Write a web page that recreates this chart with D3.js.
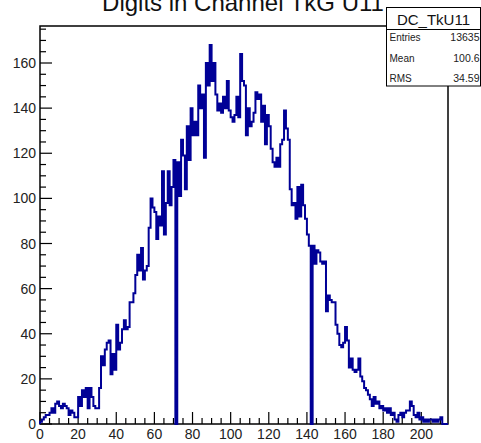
<!DOCTYPE html>
<html>
<head>
<meta charset="utf-8">
<script src="https://cdn.jsdelivr.net/npm/d3@7"></script>
<style>
  html, body { margin: 0; padding: 0; background: #fff; }
  svg { display: block; font-family: "Liberation Sans", Arial, Helvetica, sans-serif; }
</style>
</head>
<body>
<svg id="chart" width="481" height="443"></svg>
<script>
// Bin contents, one entry per unit-wide bin starting at 0
const counts = [
  1, 2, 3, 4, 4, 5, 7, 5, 9, 10,
  8, 7, 9, 8, 7, 4, 6, 5, 3, 3,
  12, 8, 15, 12, 16, 7, 16, 12, 8, 7,
  7, 16, 30, 26, 33, 36, 37, 22, 31, 24,
  44, 33, 36, 42, 46, 42, 43, 54, 54, 58,
  66, 75, 68, 78, 64, 68, 70, 87, 100, 96,
  94, 82, 92, 88, 112, 84, 98, 112, 97, 105,
  117, 0, 116, 101, 126, 119, 104, 132, 117, 140,
  128, 134, 128, 150, 140, 146, 118, 160, 150, 168,
  152, 160, 146, 139, 142, 138, 145, 140, 152, 139,
  136, 134, 137, 145, 136, 164, 152, 150, 128, 140,
  132, 134, 138, 147, 144, 146, 134, 141, 124, 137,
  132, 122, 116, 114, 118, 114, 124, 126, 139, 131,
  126, 104, 97, 98, 91, 105, 92, 106, 97, 91,
  84, 79, 0, 79, 71, 77, 76, 72, 71, 72,
  50, 57, 55, 54, 54, 44, 40, 35, 34, 36,
  43, 37, 25, 29, 24, 23, 24, 29, 21, 19,
  16, 15, 13, 11, 8, 12, 9, 10, 7, 8,
  6, 7, 5, 7, 4, 5, 2, 1, 4, 5,
  3, 5, 6, 6, 10, 8, 4, 3, 5, 2,
  3, 1, 2, 1, 2, 2, 1, 2, 1, 2,
  3, 0, 0, 0
];
const xTickLabels = [0, 20, 40, 60, 80, 100, 120, 140, 160, 180, 200];
const yTickLabels = [0, 20, 40, 60, 80, 100, 120, 140, 160];
const statsNames = ["Entries", "Mean", "RMS"];
const statsValues = ["13635", "100.6", "34.59"];
const histName = "DC_TkU11";
const titleText = "Digits in Channel TkG U11";
const xMax = 214;
const yMax = 176.4;

const svg = d3.select("#chart");
const frame = { left: 40, right: 448, top: 26, bottom: 424 };

const x = d3.scaleLinear().domain([0, xMax]).range([frame.left, frame.right]);
const y = d3.scaleLinear().domain([0, yMax]).range([frame.bottom, frame.top]);

// Title (sits partly above the canvas edge)
svg.append("text")
  .attr("x", 243).attr("y", 11)
  .attr("text-anchor", "middle")
  .attr("font-size", 24)
  .attr("fill", "#111")
  .text(titleText);

// Frame
svg.append("rect")
  .attr("x", frame.left).attr("y", frame.top)
  .attr("width", frame.right - frame.left)
  .attr("height", frame.bottom - frame.top)
  .attr("fill", "none").attr("stroke", "#000").attr("stroke-width", 1.5);

// X ticks drawn inward from the bottom axis
const xMinor = d3.range(0, xMax + 0.001, 5);
svg.append("g").selectAll("line").data(xMinor).join("line")
  .attr("x1", d => x(d)).attr("x2", d => x(d))
  .attr("y1", frame.bottom)
  .attr("y2", d => frame.bottom - (d % 20 === 0 ? 12 : 6))
  .attr("stroke", "#000").attr("stroke-width", 1.2);

// Y ticks drawn inward from the left axis
const yMinor = d3.range(0, yMax, 5);
svg.append("g").selectAll("line").data(yMinor).join("line")
  .attr("y1", d => y(d)).attr("y2", d => y(d))
  .attr("x1", frame.left)
  .attr("x2", d => frame.left + (d % 20 === 0 ? 12 : 6))
  .attr("stroke", "#000").attr("stroke-width", 1.2);

// Tick labels
svg.append("g").selectAll("text").data(xTickLabels).join("text")
  .attr("x", d => x(d)).attr("y", 439)
  .attr("text-anchor", "middle")
  .attr("font-size", 14).attr("fill", "#222")
  .text(d => d);

svg.append("g").selectAll("text").data(yTickLabels).join("text")
  .attr("x", 36).attr("y", d => y(d) + 5)
  .attr("text-anchor", "end")
  .attr("font-size", 14).attr("fill", "#222")
  .text(d => d);

// Histogram outline as a step path
const pts = [[0, 0]];
counts.forEach((c, i) => { pts.push([i, c]); pts.push([i + 1, c]); });
pts.push([counts.length, 0]);
const line = d3.line().x(d => x(d[0])).y(d => y(d[1]));
svg.append("path")
  .attr("d", line(pts))
  .attr("fill", "none")
  .attr("stroke", "#000096")
  .attr("stroke-width", 2)
  .attr("stroke-linejoin", "miter");

// Statistics box
const box = { x: 386.5, y: 7.5, w: 94, h: 78.5 };
svg.append("rect")
  .attr("x", box.x).attr("y", box.y).attr("width", box.w).attr("height", box.h)
  .attr("fill", "#fff").attr("stroke", "#000").attr("stroke-width", 1);
svg.append("line")
  .attr("x1", box.x).attr("x2", box.x + box.w)
  .attr("y1", 29.5).attr("y2", 29.5)
  .attr("stroke", "#000").attr("stroke-width", 1);
svg.append("text")
  .attr("x", box.x + box.w / 2).attr("y", 25)
  .attr("text-anchor", "middle")
  .attr("font-size", 15).attr("fill", "#111")
  .text(histName);
const rowY = [41, 61.5, 81.5];
svg.append("g").selectAll("text").data(statsNames).join("text")
  .attr("x", 389.5).attr("y", (d, i) => rowY[i])
  .attr("font-size", 10).attr("fill", "#222")
  .text(d => d);
svg.append("g").selectAll("text").data(statsValues).join("text")
  .attr("x", 479.5).attr("y", (d, i) => rowY[i])
  .attr("text-anchor", "end")
  .attr("font-size", 10.5).attr("fill", "#222")
  .text(d => d);
</script>
</body>
</html>
